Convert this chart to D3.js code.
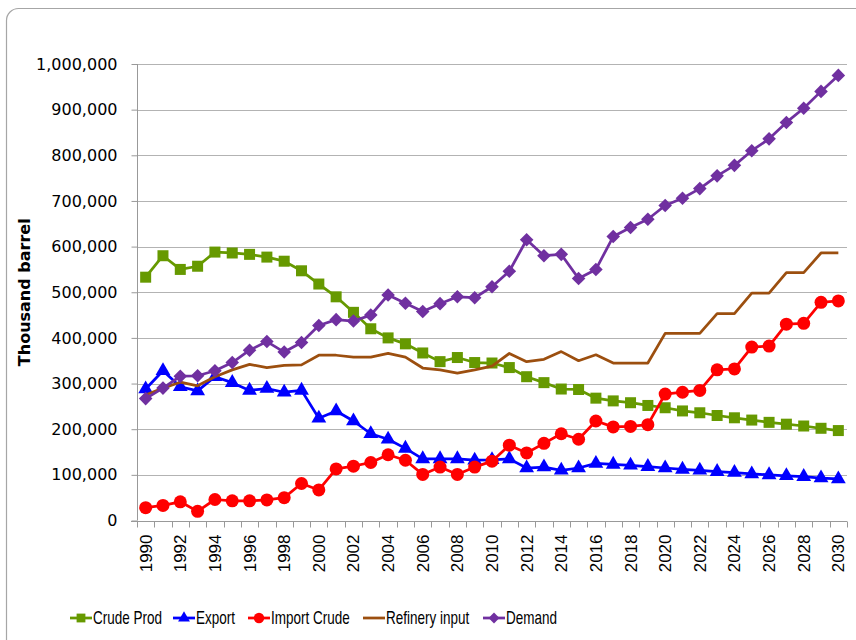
<!DOCTYPE html>
<html>
<head>
<meta charset="utf-8">
<script src="https://cdn.jsdelivr.net/npm/d3@7"></script>
<style>
  body { margin: 0; background: #fff; }
  svg { display: block; }
</style>
</head>
<body>
<div id="chart"></div>
<script>
// data (thousand barrel)
var years = d3.range(1990, 2031);

var crudeProd = [533000, 580000, 550000, 557000, 588000, 586000, 583000, 577000, 568000, 547000,
  518000, 490000, 456000, 420000, 400000, 387000, 367000, 348000, 357000, 346000,
  345000, 335000, 315000, 302000, 288000, 287000, 268000, 262000, 258000, 252000,
  247000, 240000, 236000, 230000, 225000, 220000, 215000, 211000, 207000, 202000, 197000];

var exportCrude = [288000, 328000, 293000, 284000, 315000, 302000, 285000, 289000, 281000, 285000,
  224000, 240000, 218000, 190000, 178000, 158000, 135000, 135000, 135000, 132000,
  133000, 135000, 115000, 117000, 110000, 115000, 125000, 123000, 121000, 118000,
  115000, 112000, 110000, 107000, 105000, 102000, 100000, 98000, 96000, 93000, 91000];

var importCrude = [28000, 33000, 41000, 20000, 46000, 43000, 43000, 45000, 50000, 81000,
  67000, 113000, 119000, 127000, 144000, 132000, 101000, 117000, 101000, 117000,
  130000, 165000, 148000, 169000, 190000, 178000, 218000, 205000, 206000, 210000,
  277000, 281000, 285000, 330000, 332000, 380000, 382000, 430000, 432000, 478000, 481000];

var refineryInput = [275000, 290000, 303000, 295000, 315000, 330000, 342000, 335000, 340000, 341000,
  362000, 362000, 358000, 358000, 366000, 358000, 334000, 330000, 323000, 330000,
  338000, 366000, 348000, 353000, 370000, 350000, 363000, 345000, 345000, 345000,
  410000, 410000, 410000, 453000, 453000, 498000, 498000, 543000, 543000, 586000, 586000];

var demand = [267000, 290000, 316000, 317000, 328000, 346000, 373000, 392000, 369000, 390000,
  427000, 440000, 437000, 450000, 494000, 476000, 458000, 475000, 490000, 488000,
  512000, 546000, 615000, 580000, 583000, 530000, 550000, 622000, 642000, 660000,
  690000, 706000, 727000, 755000, 778000, 810000, 836000, 872000, 903000, 940000, 975000];

var seriesNames = ["Crude Prod", "Export", "Import Crude", "Refinery input", "Demand"];
var yTicks = [0, 100000, 200000, 300000, 400000, 500000, 600000, 700000, 800000, 900000, 1000000];

var series = [
  { name: seriesNames[0], values: crudeProd, color: "#669900", marker: "square" },
  { name: seriesNames[1], values: exportCrude, color: "#0000ff", marker: "triangle" },
  { name: seriesNames[2], values: importCrude, color: "#ff0000", marker: "circle" },
  { name: seriesNames[3], values: refineryInput, color: "#9c4f0f", marker: null },
  { name: seriesNames[4], values: demand, color: "#7030a0", marker: "diamond" }
];

var width = 856, height = 640;
var margin = { left: 137, right: 9, top: 64, bottom: 120 };

var svg = d3.select("#chart").append("svg")
  .attr("width", width)
  .attr("height", height);

// chart frame
svg.append("rect")
  .attr("x", 6.5).attr("y", 8.5)
  .attr("width", 880).attr("height", 660)
  .attr("rx", 12).attr("ry", 12)
  .attr("fill", "#fff")
  .attr("stroke", "#a6a6a6")
  .attr("stroke-width", 1.2);

var x = d3.scaleBand()
  .domain(years)
  .range([margin.left, width - margin.right])
  .padding(0);

var y = d3.scaleLinear()
  .domain([0, 1000000])
  .range([height - margin.bottom + 0.5, margin.top]);

var cx = function (i) { return x(years[i]) + x.bandwidth() / 2; };

// gridlines
svg.append("g")
  .selectAll("line")
  .data(yTicks.slice(1))
  .enter().append("line")
    .attr("x1", margin.left)
    .attr("x2", width - margin.right)
    .attr("y1", function (d) { return Math.round(y(d)) + 0.5; })
    .attr("y2", function (d) { return Math.round(y(d)) + 0.5; })
    .attr("stroke", "#b3b3b3")
    .attr("stroke-width", 1);

// y axis
var yAxis = svg.append("g")
  .attr("transform", "translate(" + (margin.left + 0.5) + ",0)")
  .call(d3.axisLeft(y).tickValues(yTicks).tickSize(6).tickPadding(14).tickFormat(d3.format(",")));
yAxis.select(".domain").attr("stroke", "#999").attr("d", "M0," + y(0) + "V" + y(1000000));
yAxis.selectAll(".tick line").attr("stroke", "#999");
yAxis.selectAll("text")
  .attr("font-family", "DejaVu Sans, sans-serif")
  .attr("font-size", 16)
  .attr("fill", "#000");

// x axis line + category boundary ticks
var x0 = Math.round(y(0)) + 0.5;
svg.append("line")
  .attr("x1", margin.left - 6).attr("x2", width - margin.right)
  .attr("y1", x0).attr("y2", x0)
  .attr("stroke", "#999");

var bounds = years.map(function (d) { return x(d); }).concat([x.range()[1]]);
svg.append("g")
  .selectAll("line")
  .data(bounds)
  .enter().append("line")
    .attr("x1", function (d) { return Math.round(d) + 0.5; })
    .attr("x2", function (d) { return Math.round(d) + 0.5; })
    .attr("y1", x0).attr("y2", x0 + 6)
    .attr("stroke", "#999");

svg.append("g")
  .selectAll("text")
  .data(years.filter(function (d) { return d % 2 === 0; }))
  .enter().append("text")
    .attr("transform", function (d) {
      return "translate(" + (x(d) + x.bandwidth() / 2 + 6) + "," + (x0 + 13) + ") rotate(-90)";
    })
    .attr("text-anchor", "end")
    .attr("font-family", "Liberation Sans, Arial, sans-serif")
    .attr("font-size", 17)
    .text(function (d) { return d; });

// y title
svg.append("text")
  .attr("transform", "translate(30," + ((y(0) + y(1000000)) / 2) + ") rotate(-90)")
  .attr("text-anchor", "middle")
  .attr("font-family", "DejaVu Sans, sans-serif")
  .attr("font-weight", "bold")
  .attr("font-size", 16)
  .text("Thousand barrel");

// markers
function drawMarker(g, type, color) {
  if (type === "square") {
    g.append("rect").attr("x", -5.5).attr("y", -5.5).attr("width", 11).attr("height", 11).attr("fill", color);
  } else if (type === "triangle") {
    g.append("path").attr("d", d3.symbol().type(d3.symbolTriangle).size(95)()).attr("fill", color);
  } else if (type === "circle") {
    g.append("circle").attr("r", 6.5).attr("fill", color);
  } else if (type === "diamond") {
    g.append("rect").attr("x", -4.8).attr("y", -4.8).attr("width", 9.6).attr("height", 9.6)
      .attr("transform", "rotate(45)").attr("fill", color);
  }
}

var line = d3.line()
  .x(function (d, i) { return cx(i); })
  .y(function (d) { return y(d); });

var plot = svg.append("g");
series.forEach(function (s) {
  plot.append("path")
    .datum(s.values)
    .attr("d", line)
    .attr("fill", "none")
    .attr("stroke", s.color)
    .attr("stroke-width", 2.75)
    .attr("stroke-linejoin", "round");
  if (s.marker) {
    s.values.forEach(function (v, i) {
      var g = plot.append("g").attr("transform", "translate(" + cx(i) + "," + y(v) + ")");
      drawMarker(g, s.marker, s.color);
    });
  }
});

// legend (narrow text, like the original's font)
var legendX = [70, 173, 248, 363, 483];
var legend = svg.append("g").attr("transform", "translate(0,618)");
series.forEach(function (s, i) {
  var g = legend.append("g").attr("transform", "translate(" + legendX[i] + ",0)");
  g.append("line").attr("x1", 0).attr("x2", 22).attr("y1", 0).attr("y2", 0)
    .attr("stroke", s.color).attr("stroke-width", 2.75);
  if (s.marker) {
    var m = g.append("g").attr("transform", "translate(11,0) scale(0.8)");
    drawMarker(m, s.marker, s.color);
  }
  g.append("text")
    .attr("transform", "translate(23,0) scale(0.75,1)")
    .attr("dy", "0.36em")
    .attr("font-family", "Liberation Sans, Arial, sans-serif")
    .attr("font-size", 18)
    .text(s.name);
});
</script>
</body>
</html>
